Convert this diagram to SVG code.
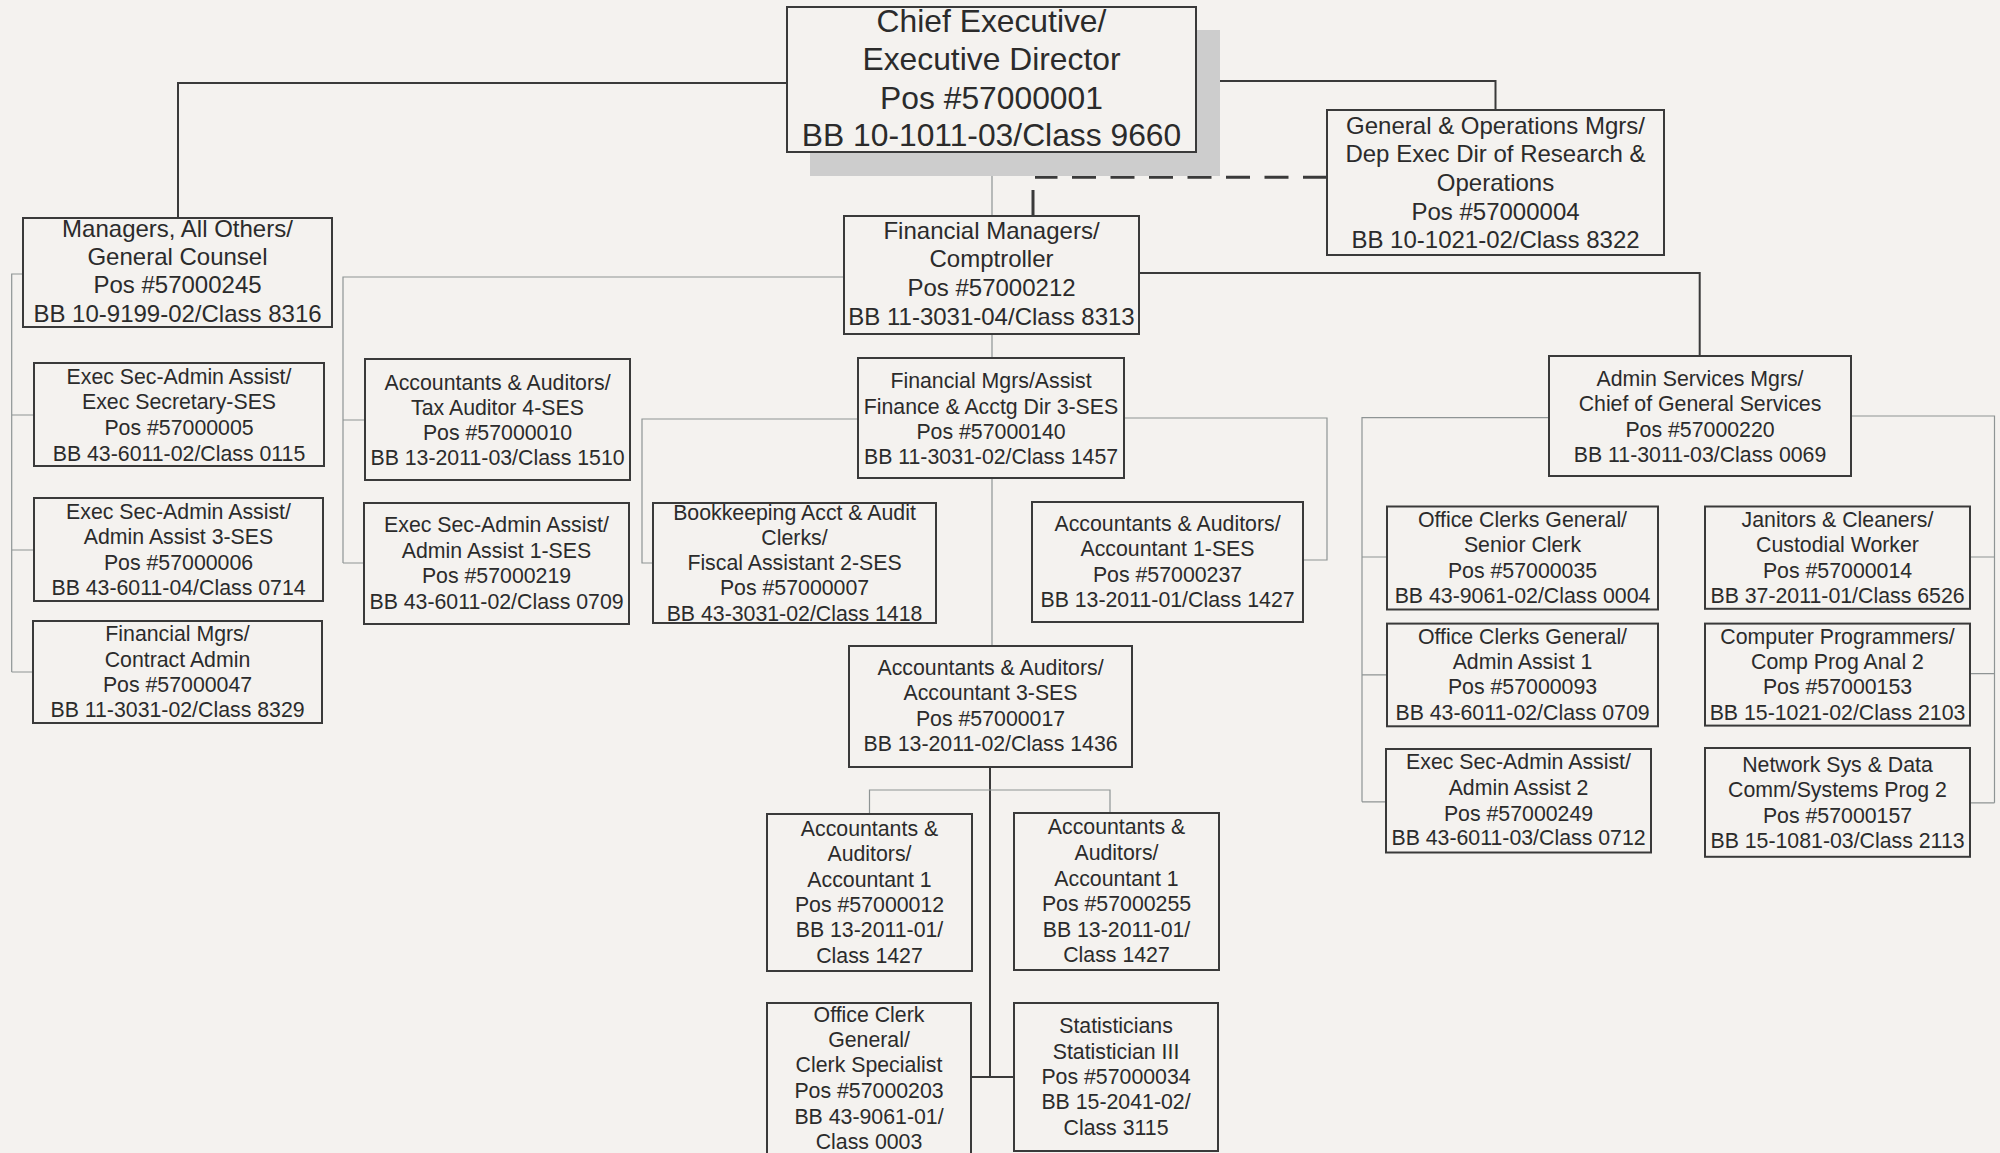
<svg xmlns="http://www.w3.org/2000/svg" width="2000" height="1153" viewBox="0 0 2000 1153">
<style>
.bg{fill:#f4f2ef}
.box{fill:#f4f2ef;stroke:#3a3a3a;stroke-width:2}
.dk{fill:none;stroke:#3a3a3a;stroke-width:2}
.lt{fill:none;stroke:#8e9494;stroke-width:1.2}
.dash{fill:none;stroke:#3a3a3a;stroke-width:3;stroke-dasharray:24 14.5}
text{font-family:"Liberation Sans",Arial,Helvetica,sans-serif;fill:#2b2b2b;text-anchor:middle}
.f31{font-size:31.8px}
.f24{font-size:24px}
.f21{font-size:21.3px}
</style>
<rect class="bg" x="0" y="0" width="2000" height="1153"/>
<g id="connectors">
  <path class="dk" d="M787,83 H178 V218"/>
  <path class="dk" d="M1196,81 H1495.5 V110"/>
  <path class="dash" d="M1327,177.3 H1035"/>
  <path d="M1033,190 V215" fill="none" stroke="#3a3a3a" stroke-width="3"/>
  <path class="lt" d="M992,152 V216 M992,334 V358 M992,478 V646"/>
  <path class="lt" d="M23,274 H11.7 V672 M11.7,415 H34 M11.7,550 H34 M11.7,672 H33"/>
  <path class="lt" d="M844,277 H343 V563 M343,420 H365 M343,563 H364"/>
  <path class="dk" d="M1139,273 H1699.7 V356"/>
  <path class="lt" d="M858,419 H642 V563 H653"/>
  <path class="lt" d="M1124,418 H1327 V560 H1303"/>
  <path class="lt" d="M1549,417.7 H1362 V801.8 M1362,557 H1387 M1362,674.8 H1387 M1362,801.8 H1386"/>
  <path class="lt" d="M1851,416 H1994.5 V802.8 M1994.5,557 H1970 M1994.5,673.7 H1970 M1994.5,802.8 H1970"/>
  <path class="dk" d="M990,767 V1077 M971,1077 H1014"/>
  <path class="lt" d="M869.5,814 V790 H1110 V813"/>
</g>
<g id="chief">
  <rect x="810" y="30" width="410" height="146" fill="#cdcdcd"/>
  <rect class="box" x="787" y="7" width="409" height="145"/>
  <text class="f31"><tspan x="991.5" y="32">Chief Executive/</tspan><tspan x="991.5" y="70">Executive Director</tspan><tspan x="991.5" y="108.5">Pos #57000001</tspan><tspan x="991.5" y="146">BB 10-1011-03/Class 9660</tspan></text>
</g>
<g id="genops">
  <rect class="box" x="1327" y="110" width="337" height="145"/>
  <text class="f24"><tspan x="1495.5" y="133.6">General &amp; Operations Mgrs/</tspan><tspan x="1495.5" y="161.6">Dep Exec Dir of Research &amp;</tspan><tspan x="1495.5" y="190.6">Operations</tspan><tspan x="1495.5" y="219.6">Pos #57000004</tspan><tspan x="1495.5" y="247.6">BB 10-1021-02/Class 8322</tspan></text>
</g>
<g id="managers">
  <rect class="box" x="23" y="218" width="309" height="109"/>
  <text class="f24"><tspan x="177.5" y="236.7">Managers, All Others/</tspan><tspan x="177.5" y="265">General Counsel</tspan><tspan x="177.5" y="293.3">Pos #57000245</tspan><tspan x="177.5" y="321.7">BB 10-9199-02/Class 8316</tspan></text>
</g>
<g id="finmgr">
  <rect class="box" x="844" y="216" width="295" height="118"/>
  <text class="f24"><tspan x="991.5" y="238.6">Financial Managers/</tspan><tspan x="991.5" y="267.2">Comptroller</tspan><tspan x="991.5" y="295.8">Pos #57000212</tspan><tspan x="991.5" y="324.6">BB 11-3031-04/Class 8313</tspan></text>
</g>
<g id="execsec">
  <rect class="box" x="34" y="363" width="290" height="103"/>
  <text class="f21"><tspan x="179" y="383.6">Exec Sec-Admin Assist/</tspan><tspan x="179" y="408.6">Exec Secretary-SES</tspan><tspan x="179" y="434.6">Pos #57000005</tspan><tspan x="179" y="460.6">BB 43-6011-02/Class 0115</tspan></text>
</g>
<g id="aa3ses">
  <rect class="box" x="34" y="498" width="289" height="103"/>
  <text class="f21"><tspan x="178.5" y="518.6">Exec Sec-Admin Assist/</tspan><tspan x="178.5" y="543.6">Admin Assist 3-SES</tspan><tspan x="178.5" y="569.6">Pos #57000006</tspan><tspan x="178.5" y="594.6">BB 43-6011-04/Class 0714</tspan></text>
</g>
<g id="contract">
  <rect class="box" x="33" y="621" width="289" height="102"/>
  <text class="f21"><tspan x="177.5" y="640.6">Financial Mgrs/</tspan><tspan x="177.5" y="666.6">Contract Admin</tspan><tspan x="177.5" y="691.6">Pos #57000047</tspan><tspan x="177.5" y="716.6">BB 11-3031-02/Class 8329</tspan></text>
</g>
<g id="taxaud">
  <rect class="box" x="365" y="359" width="265" height="121"/>
  <text class="f21"><tspan x="497.5" y="389.6">Accountants &amp; Auditors/</tspan><tspan x="497.5" y="414.6">Tax Auditor 4-SES</tspan><tspan x="497.5" y="439.6">Pos #57000010</tspan><tspan x="497.5" y="464.6">BB 13-2011-03/Class 1510</tspan></text>
</g>
<g id="aa1ses">
  <rect class="box" x="364" y="503" width="265" height="121"/>
  <text class="f21"><tspan x="496.5" y="531.6">Exec Sec-Admin Assist/</tspan><tspan x="496.5" y="557.6">Admin Assist 1-SES</tspan><tspan x="496.5" y="582.6">Pos #57000219</tspan><tspan x="496.5" y="608.6">BB 43-6011-02/Class 0709</tspan></text>
</g>
<g id="finassist">
  <rect class="box" x="858" y="358" width="266" height="120"/>
  <text class="f21"><tspan x="991" y="387.6">Financial Mgrs/Assist</tspan><tspan x="991" y="413.6">Finance &amp; Acctg Dir 3-SES</tspan><tspan x="991" y="438.6">Pos #57000140</tspan><tspan x="991" y="463.6">BB 11-3031-02/Class 1457</tspan></text>
</g>
<g id="bookkeep">
  <rect class="box" x="653" y="503" width="283" height="120"/>
  <text class="f21"><tspan x="794.5" y="519.6">Bookkeeping Acct &amp; Audit</tspan><tspan x="794.5" y="544.6">Clerks/</tspan><tspan x="794.5" y="569.6">Fiscal Assistant 2-SES</tspan><tspan x="794.5" y="594.6">Pos #57000007</tspan><tspan x="794.5" y="620.6">BB 43-3031-02/Class 1418</tspan></text>
</g>
<g id="acc1ses">
  <rect class="box" x="1032" y="502" width="271" height="120"/>
  <text class="f21"><tspan x="1167.5" y="530.6">Accountants &amp; Auditors/</tspan><tspan x="1167.5" y="555.6">Accountant 1-SES</tspan><tspan x="1167.5" y="581.6">Pos #57000237</tspan><tspan x="1167.5" y="606.6">BB 13-2011-01/Class 1427</tspan></text>
</g>
<g id="acc3ses">
  <rect class="box" x="849" y="646" width="283" height="121"/>
  <text class="f21"><tspan x="990.5" y="675.3">Accountants &amp; Auditors/</tspan><tspan x="990.5" y="700.3">Accountant 3-SES</tspan><tspan x="990.5" y="725.6">Pos #57000017</tspan><tspan x="990.5" y="750.6">BB 13-2011-02/Class 1436</tspan></text>
</g>
<g id="adminserv">
  <rect class="box" x="1549" y="356" width="302" height="120"/>
  <text class="f21"><tspan x="1700" y="386">Admin Services Mgrs/</tspan><tspan x="1700" y="411.3">Chief of General Services</tspan><tspan x="1700" y="436.5">Pos #57000220</tspan><tspan x="1700" y="462">BB 11-3011-03/Class 0069</tspan></text>
</g>
<g id="senclerk">
  <rect class="box" x="1387" y="506.5" width="271" height="103"/>
  <text class="f21"><tspan x="1522.5" y="527">Office Clerks General/</tspan><tspan x="1522.5" y="552.3">Senior Clerk</tspan><tspan x="1522.5" y="577.9">Pos #57000035</tspan><tspan x="1522.5" y="603.1">BB 43-9061-02/Class 0004</tspan></text>
</g>
<g id="aa1">
  <rect class="box" x="1387" y="623.6" width="271" height="102.7"/>
  <text class="f21"><tspan x="1522.5" y="643.8">Office Clerks General/</tspan><tspan x="1522.5" y="669.1">Admin Assist 1</tspan><tspan x="1522.5" y="694.3">Pos #57000093</tspan><tspan x="1522.5" y="719.9">BB 43-6011-02/Class 0709</tspan></text>
</g>
<g id="aa2">
  <rect class="box" x="1386" y="749" width="265" height="103.5"/>
  <text class="f21"><tspan x="1518.5" y="769">Exec Sec-Admin Assist/</tspan><tspan x="1518.5" y="794.6">Admin Assist 2</tspan><tspan x="1518.5" y="820.6">Pos #57000249</tspan><tspan x="1518.5" y="845.1">BB 43-6011-03/Class 0712</tspan></text>
</g>
<g id="janitor">
  <rect class="box" x="1705" y="506.5" width="265" height="102.3"/>
  <text class="f21"><tspan x="1837.5" y="527">Janitors &amp; Cleaners/</tspan><tspan x="1837.5" y="552.3">Custodial Worker</tspan><tspan x="1837.5" y="577.9">Pos #57000014</tspan><tspan x="1837.5" y="603.1">BB 37-2011-01/Class 6526</tspan></text>
</g>
<g id="comprog">
  <rect class="box" x="1705" y="623.6" width="265" height="102"/>
  <text class="f21"><tspan x="1837.5" y="643.8">Computer Programmers/</tspan><tspan x="1837.5" y="669.1">Comp Prog Anal 2</tspan><tspan x="1837.5" y="694.3">Pos #57000153</tspan><tspan x="1837.5" y="719.9">BB 15-1021-02/Class 2103</tspan></text>
</g>
<g id="netsys">
  <rect class="box" x="1705" y="748" width="265" height="108.8"/>
  <text class="f21"><tspan x="1837.5" y="771.8">Network Sys &amp; Data</tspan><tspan x="1837.5" y="797.1">Comm/Systems Prog 2</tspan><tspan x="1837.5" y="822.7">Pos #57000157</tspan><tspan x="1837.5" y="847.9">BB 15-1081-03/Class 2113</tspan></text>
</g>
<g id="acc012">
  <rect class="box" x="767" y="814" width="205" height="157"/>
  <text class="f21"><tspan x="869.5" y="835.6">Accountants &amp;</tspan><tspan x="869.5" y="860.6">Auditors/</tspan><tspan x="869.5" y="886.6">Accountant 1</tspan><tspan x="869.5" y="911.6">Pos #57000012</tspan><tspan x="869.5" y="936.6">BB 13-2011-01/</tspan><tspan x="869.5" y="962.6">Class 1427</tspan></text>
</g>
<g id="acc255">
  <rect class="box" x="1014" y="813" width="205" height="157"/>
  <text class="f21"><tspan x="1116.5" y="834.3">Accountants &amp;</tspan><tspan x="1116.5" y="860.3">Auditors/</tspan><tspan x="1116.5" y="885.6">Accountant 1</tspan><tspan x="1116.5" y="910.6">Pos #57000255</tspan><tspan x="1116.5" y="936.6">BB 13-2011-01/</tspan><tspan x="1116.5" y="961.6">Class 1427</tspan></text>
</g>
<g id="clerk203">
  <rect class="box" x="767" y="1003" width="204" height="160"/>
  <text class="f21"><tspan x="869" y="1021.6">Office Clerk</tspan><tspan x="869" y="1046.6">General/</tspan><tspan x="869" y="1071.6">Clerk Specialist</tspan><tspan x="869" y="1097.6">Pos #57000203</tspan><tspan x="869" y="1123.6">BB 43-9061-01/</tspan><tspan x="869" y="1148.6">Class 0003</tspan></text>
</g>
<g id="stat">
  <rect class="box" x="1014" y="1003" width="204" height="148"/>
  <text class="f21"><tspan x="1116" y="1033.3">Statisticians</tspan><tspan x="1116" y="1058.6">Statistician III</tspan><tspan x="1116" y="1083.6">Pos #57000034</tspan><tspan x="1116" y="1109.3">BB 15-2041-02/</tspan><tspan x="1116" y="1135.3">Class 3115</tspan></text>
</g>
</svg>
